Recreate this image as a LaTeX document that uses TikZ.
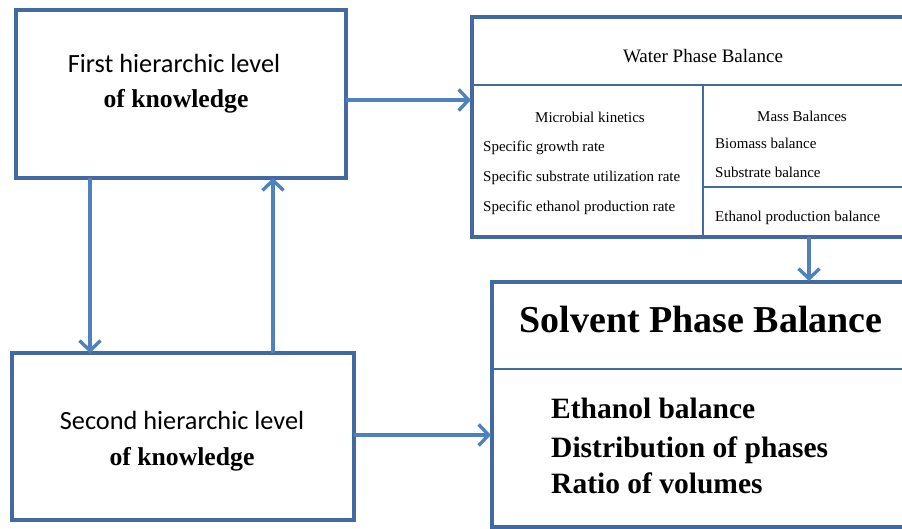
\documentclass[tikz,border=0pt]{standalone}
\usepackage{fontspec}
\setmainfont{Liberation Serif}
\newfontfamily\calib{Carlito}
\usetikzlibrary{arrows.meta}
\definecolor{boxblue}{RGB}{66,106,160}
\definecolor{arrblue}{RGB}{79,129,189}
\tikzset{
  frame/.style={draw=boxblue, line width=3.2pt},
  divline/.style={draw=boxblue, line width=2.6pt},
  conn/.style={draw=arrblue, line width=3.2pt, -{Straight Barb[length=10pt,width=21pt,line width=3.4pt]}},
  txt/.style={inner sep=0pt, text=black, anchor=base},
  txtw/.style={inner sep=0pt, text=black, anchor=base west},
  small/.style={font=\fontsize{15}{18}\selectfont},
}
\begin{document}
\begin{tikzpicture}[x=1pt,y=-1pt]
\useasboundingbox (0,0) rectangle (902,529);
% boxes
\draw[frame] (16,10) rectangle (346,178);
\draw[frame] (12,353) rectangle (354,520);
\coordinate (b1e) at (346,100);
\coordinate (b1b1) at (90,178);
\coordinate (b1b2) at (273,178);
\coordinate (b2t1) at (90,353);
\coordinate (b2t2) at (273,353);
\coordinate (b2e) at (354,435);
% water box
\draw[frame] (905,17) -- (472,17) -- (472,237) -- (905,237);
\draw[divline] (472,85) -- (905,85);
\draw[divline] (703,85) -- (703,237);
\draw[divline] (703,187) -- (905,187);
\coordinate (wl) at (471,100);
\coordinate (wb) at (809,237);
% solvent box
\draw[frame] (905,282) -- (492,282) -- (492,527) -- (905,527);
\draw[divline] (492,369) -- (905,369);
\coordinate (st) at (809,281);
\coordinate (sl) at (491,435);
% texts
\node[txt, font=\calib\fontsize{26.3}{30}\selectfont] (t1a) at (174,73) {First hierarchic level};
\node[txt, font=\bfseries\fontsize{25.7}{30}\selectfont] (t1b) at (176,108) {of knowledge};
\node[txt, font=\calib\fontsize{26.3}{30}\selectfont] (t2a) at (182,429) {Second hierarchic level};
\node[txt, font=\bfseries\fontsize{25.7}{30}\selectfont] (t2b) at (182,465) {of knowledge};
\node[txt, font=\fontsize{19}{23}\selectfont] (wt) at (703,63) {Water Phase Balance};
\node[txt, small] (mk) at (590,123) {Microbial kinetics};
\node[txtw, small] (s1) at (483,152) {Specific growth rate};
\node[txtw, small] (s2) at (483,182) {Specific substrate utilization rate};
\node[txtw, small] (s3) at (483,212) {Specific ethanol production rate};
\node[txt, small] (mb) at (802,122) {Mass Balances};
\node[txtw, small] (m1) at (715,149) {Biomass balance};
\node[txtw, small] (m2) at (715,178) {Substrate balance};
\node[txtw, small] (m3) at (715,222) {Ethanol production balance};
\node[txt, font=\bfseries\fontsize{38}{44}\selectfont] (sp) at (701,332) {Solvent Phase Balance};
\node[txtw, font=\bfseries\fontsize{29.5}{34}\selectfont] (e1) at (551,418) {Ethanol balance};
\node[txtw, font=\bfseries\fontsize{29.5}{34}\selectfont] (e2) at (551,457) {Distribution of phases};
\node[txtw, font=\bfseries\fontsize{29.5}{34}\selectfont] (e3) at (551,493) {Ratio of volumes};
% connectors
\draw[conn] (b1e) -- (wl);
\draw[conn] (b1b1) -- (b2t1);
\draw[conn] (b2t2) -- (b1b2);
\draw[conn] (b2e) -- (sl);
\draw[conn] (wb) -- (st);
\end{tikzpicture}
\end{document}
